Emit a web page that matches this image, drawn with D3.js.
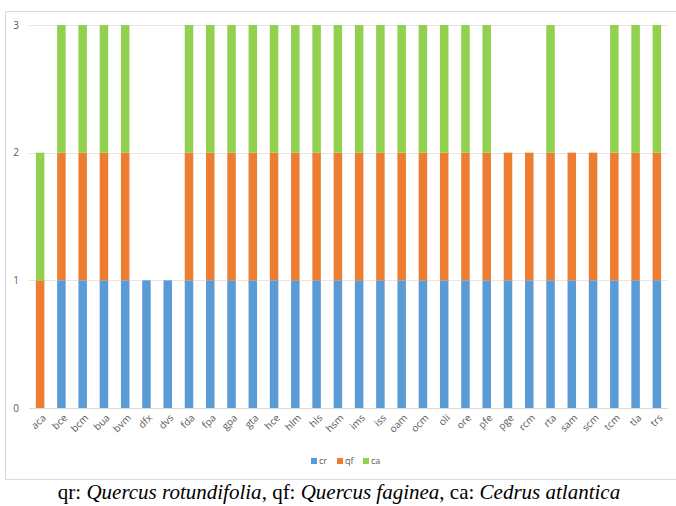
<!DOCTYPE html>
<html><head><meta charset="utf-8">
<script src="https://cdn.jsdelivr.net/npm/d3@7"></script>
<style>body{margin:0;background:#fff;}svg{display:block;}
.cap{font-family:"Liberation Serif","Times New Roman",serif;}
.lab{font-family:"Open Sans",sans-serif;}
</style>
</head><body>
<svg id="c" width="676" height="506"></svg>
<script>
const categories = ["aca","bce","bcm","bua","bvm","dfx","dvs","fda","fpa","gpa","gta","hce","hlm","hls","hsm","ims","iss","oam","ocm","oli","ore","pfe","pge","rcm","rta","sam","scm","tcm","tla","trs"];
const cr = [0,1,1,1,1,1,1,1,1,1,1,1,1,1,1,1,1,1,1,1,1,1,1,1,1,1,1,1,1,1];
const qf = [1,1,1,1,1,0,0,1,1,1,1,1,1,1,1,1,1,1,1,1,1,1,1,1,1,1,1,1,1,1];
const ca = [1,1,1,1,1,0,0,1,1,1,1,1,1,1,1,1,1,1,1,1,1,1,0,0,1,0,0,1,1,1];
const seriesNames = ["cr","qf","ca"];
const yTicks = [0,1,2,3];
const colors = ["#5B9BD5","#ED7D31","#92D050"];

const svg = d3.select("#c");
svg.append("path").attr("d","M5.5,479.5 L5.5,11.5 L676,11.5 M5.5,479.5 L676,479.5")
  .attr("fill","none").attr("stroke","#d9d9d9").attr("stroke-width",1);

const x = d3.scaleBand().domain(categories).range([29.5,667.5]).paddingInner(0.6).paddingOuter(0.3);
const y = d3.scaleLinear().domain([0,3]).range([408,25]);

svg.append("g").selectAll("line").data(yTicks).join("line")
  .attr("x1",29).attr("x2",668)
  .attr("y1",d=>Math.round(y(d))+0.5).attr("y2",d=>Math.round(y(d))+0.5)
  .attr("stroke",d=>d===0?"#d9d9d9":"#e6e6e6").attr("stroke-width",1);

const yAxis = d3.axisLeft(y).tickValues(yTicks).tickSize(0).tickPadding(0).tickFormat(d3.format("d"));
const ya = svg.append("g").attr("transform","translate(19,0)").call(yAxis);
ya.select(".domain").remove();
ya.attr("font-family",null).attr("font-size",null).attr("class","lab");
ya.selectAll("text").attr("fill","#595959").style("font-size","10px");

const rows = categories.map((c,i)=>({cat:c, cr:cr[i], qf:qf[i], ca:ca[i]}));
const stack = d3.stack().keys(seriesNames)(rows);
svg.append("g").selectAll("g").data(stack).join("g")
  .attr("fill",(d,i)=>colors[i])
  .selectAll("rect").data(d=>d).join("rect")
  .attr("x",d=>x(d.data.cat))
  .attr("width",x.bandwidth())
  .attr("y",d=>y(d[1]))
  .attr("height",d=>y(d[0])-y(d[1]));

// x labels, rotated -45°
svg.append("g").attr("class","lab").selectAll("text").data(categories).join("text")
  .attr("transform",d=>`translate(${x(d)+x.bandwidth()/2+4},${416}) rotate(-45)`)
  .attr("text-anchor","end").attr("dy","0.35em")
  .attr("fill","#595959").style("font-size","10px")
  .text(d=>d);

const lg = svg.append("g").attr("class","lab").attr("transform","translate(311,461)");
const legX = [0,26,52];
seriesNames.forEach((s,i)=>{
  lg.append("rect").attr("x",legX[i]).attr("y",-3).attr("width",6).attr("height",6).attr("fill",colors[i]);
  lg.append("text").attr("x",legX[i]+8).attr("y",0).attr("dy","0.35em")
    .style("font-size","9px").attr("fill","#595959").text(s);
});

const cap = svg.append("text").attr("class","cap").attr("x",339).attr("y",499).attr("text-anchor","middle")
  .style("font-size","21px").attr("fill","#000");
cap.append("tspan").text("qr: ");
cap.append("tspan").style("font-style","italic").text("Quercus rotundifolia");
cap.append("tspan").text(", qf: ");
cap.append("tspan").style("font-style","italic").text("Quercus faginea");
cap.append("tspan").text(", ca: ");
cap.append("tspan").style("font-style","italic").text("Cedrus atlantica");
</script>
</body></html>
